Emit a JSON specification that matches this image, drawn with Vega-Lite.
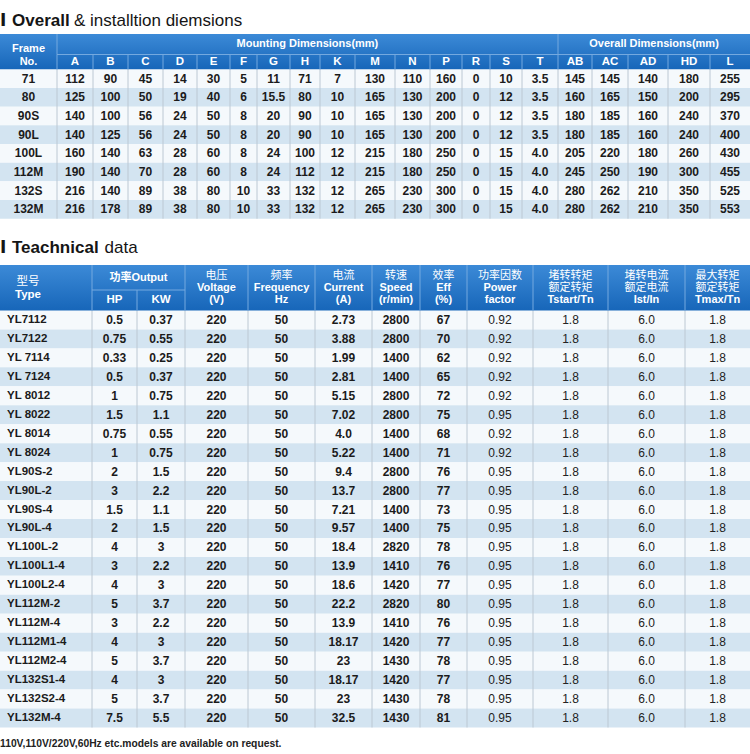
{
"$schema": "https://vega.github.io/schema/vega-lite/v6.json",
"width": 750, "height": 754, "padding": 0, "autosize": {"type": "none"},
"background": "#ffffff",
"usermeta": {"embedOptions": {"actions": false}},
"config": {"view": {"stroke": null}},
"datasets": {
"cols1": [{"key":"Frame","k":0},{"key":"A","k":1},{"key":"B","k":2},{"key":"C","k":3},{"key":"D","k":4},{"key":"E","k":5},{"key":"F","k":6},{"key":"G","k":7},{"key":"H","k":8},{"key":"K","k":9},{"key":"M","k":10},{"key":"N","k":11},{"key":"P","k":12},{"key":"R","k":13},{"key":"S","k":14},{"key":"T","k":15},{"key":"AB","k":16},{"key":"AC","k":17},{"key":"AD","k":18},{"key":"HD","k":19},{"key":"L","k":20}],
"t1": [
{"Frame":"71","A":"112","B":"90","C":"45","D":"14","E":"30","F":"5","G":"11","H":"71","K":"7","M":"130","N":"110","P":"160","R":"0","S":"10","T":"3.5","AB":"145","AC":"145","AD":"140","HD":"180","L":"255"},
{"Frame":"80","A":"125","B":"100","C":"50","D":"19","E":"40","F":"6","G":"15.5","H":"80","K":"10","M":"165","N":"130","P":"200","R":"0","S":"12","T":"3.5","AB":"160","AC":"165","AD":"150","HD":"200","L":"295"},
{"Frame":"90S","A":"140","B":"100","C":"56","D":"24","E":"50","F":"8","G":"20","H":"90","K":"10","M":"165","N":"130","P":"200","R":"0","S":"12","T":"3.5","AB":"180","AC":"185","AD":"160","HD":"240","L":"370"},
{"Frame":"90L","A":"140","B":"125","C":"56","D":"24","E":"50","F":"8","G":"20","H":"90","K":"10","M":"165","N":"130","P":"200","R":"0","S":"12","T":"3.5","AB":"180","AC":"185","AD":"160","HD":"240","L":"400"},
{"Frame":"100L","A":"160","B":"140","C":"63","D":"28","E":"60","F":"8","G":"24","H":"100","K":"12","M":"215","N":"180","P":"250","R":"0","S":"15","T":"4.0","AB":"205","AC":"220","AD":"180","HD":"260","L":"430"},
{"Frame":"112M","A":"190","B":"140","C":"70","D":"28","E":"60","F":"8","G":"24","H":"112","K":"12","M":"215","N":"180","P":"250","R":"0","S":"15","T":"4.0","AB":"245","AC":"250","AD":"190","HD":"300","L":"455"},
{"Frame":"132S","A":"216","B":"140","C":"89","D":"38","E":"80","F":"10","G":"33","H":"132","K":"12","M":"265","N":"230","P":"300","R":"0","S":"15","T":"4.0","AB":"280","AC":"262","AD":"210","HD":"350","L":"525"},
{"Frame":"132M","A":"216","B":"178","C":"89","D":"38","E":"80","F":"10","G":"33","H":"132","K":"12","M":"265","N":"230","P":"300","R":"0","S":"15","T":"4.0","AB":"280","AC":"262","AD":"210","HD":"350","L":"553"}
],
"cols2": [{"key":"Type","k":0},{"key":"HP","k":1},{"key":"KW","k":2},{"key":"V","k":3},{"key":"Hz","k":4},{"key":"A","k":5},{"key":"Speed","k":6},{"key":"Eff","k":7},{"key":"PF","k":8},{"key":"Tst","k":9},{"key":"Ist","k":10},{"key":"Tmax","k":11}],
"hd2": [
{"k":3,"ln":0,"lang":"zh","t":"电压"},{"k":3,"ln":1,"lang":"en","t":"Voltage"},{"k":3,"ln":2,"lang":"en","t":"(V)"},
{"k":4,"ln":0,"lang":"zh","t":"频率"},{"k":4,"ln":1,"lang":"en","t":"Frequency"},{"k":4,"ln":2,"lang":"en","t":"Hz"},
{"k":5,"ln":0,"lang":"zh","t":"电流"},{"k":5,"ln":1,"lang":"en","t":"Current"},{"k":5,"ln":2,"lang":"en","t":"(A)"},
{"k":6,"ln":0,"lang":"zh","t":"转速"},{"k":6,"ln":1,"lang":"en","t":"Speed"},{"k":6,"ln":2,"lang":"en","t":"(r/min)"},
{"k":7,"ln":0,"lang":"zh","t":"效率"},{"k":7,"ln":1,"lang":"en","t":"Eff"},{"k":7,"ln":2,"lang":"en","t":"(%)"},
{"k":8,"ln":0,"lang":"zh","t":"功率因数"},{"k":8,"ln":1,"lang":"en","t":"Power"},{"k":8,"ln":2,"lang":"en","t":"factor"},
{"k":9,"ln":0,"lang":"zh","t":"堵转转矩"},{"k":9,"ln":1,"lang":"zh","t":"额定转矩"},{"k":9,"ln":2,"lang":"en","t":"Tstart/Tn"},
{"k":10,"ln":0,"lang":"zh","t":"堵转电流"},{"k":10,"ln":1,"lang":"zh","t":"额定电流"},{"k":10,"ln":2,"lang":"en","t":"Ist/In"},
{"k":11,"ln":0,"lang":"zh","t":"最大转矩"},{"k":11,"ln":1,"lang":"zh","t":"额定转矩"},{"k":11,"ln":2,"lang":"en","t":"Tmax/Tn"}
],
"t2": [
{"Type":"YL7112","HP":"0.5","KW":"0.37","V":"220","Hz":"50","A":"2.73","Speed":"2800","Eff":"67","PF":"0.92","Tst":"1.8","Ist":"6.0","Tmax":"1.8"},
{"Type":"YL7122","HP":"0.75","KW":"0.55","V":"220","Hz":"50","A":"3.88","Speed":"2800","Eff":"70","PF":"0.92","Tst":"1.8","Ist":"6.0","Tmax":"1.8"},
{"Type":"YL 7114","HP":"0.33","KW":"0.25","V":"220","Hz":"50","A":"1.99","Speed":"1400","Eff":"62","PF":"0.92","Tst":"1.8","Ist":"6.0","Tmax":"1.8"},
{"Type":"YL 7124","HP":"0.5","KW":"0.37","V":"220","Hz":"50","A":"2.81","Speed":"1400","Eff":"65","PF":"0.92","Tst":"1.8","Ist":"6.0","Tmax":"1.8"},
{"Type":"YL 8012","HP":"1","KW":"0.75","V":"220","Hz":"50","A":"5.15","Speed":"2800","Eff":"72","PF":"0.92","Tst":"1.8","Ist":"6.0","Tmax":"1.8"},
{"Type":"YL 8022","HP":"1.5","KW":"1.1","V":"220","Hz":"50","A":"7.02","Speed":"2800","Eff":"75","PF":"0.95","Tst":"1.8","Ist":"6.0","Tmax":"1.8"},
{"Type":"YL 8014","HP":"0.75","KW":"0.55","V":"220","Hz":"50","A":"4.0","Speed":"1400","Eff":"68","PF":"0.92","Tst":"1.8","Ist":"6.0","Tmax":"1.8"},
{"Type":"YL 8024","HP":"1","KW":"0.75","V":"220","Hz":"50","A":"5.22","Speed":"1400","Eff":"71","PF":"0.92","Tst":"1.8","Ist":"6.0","Tmax":"1.8"},
{"Type":"YL90S-2","HP":"2","KW":"1.5","V":"220","Hz":"50","A":"9.4","Speed":"2800","Eff":"76","PF":"0.95","Tst":"1.8","Ist":"6.0","Tmax":"1.8"},
{"Type":"YL90L-2","HP":"3","KW":"2.2","V":"220","Hz":"50","A":"13.7","Speed":"2800","Eff":"77","PF":"0.95","Tst":"1.8","Ist":"6.0","Tmax":"1.8"},
{"Type":"YL90S-4","HP":"1.5","KW":"1.1","V":"220","Hz":"50","A":"7.21","Speed":"1400","Eff":"73","PF":"0.95","Tst":"1.8","Ist":"6.0","Tmax":"1.8"},
{"Type":"YL90L-4","HP":"2","KW":"1.5","V":"220","Hz":"50","A":"9.57","Speed":"1400","Eff":"75","PF":"0.95","Tst":"1.8","Ist":"6.0","Tmax":"1.8"},
{"Type":"YL100L-2","HP":"4","KW":"3","V":"220","Hz":"50","A":"18.4","Speed":"2820","Eff":"78","PF":"0.95","Tst":"1.8","Ist":"6.0","Tmax":"1.8"},
{"Type":"YL100L1-4","HP":"3","KW":"2.2","V":"220","Hz":"50","A":"13.9","Speed":"1410","Eff":"76","PF":"0.95","Tst":"1.8","Ist":"6.0","Tmax":"1.8"},
{"Type":"YL100L2-4","HP":"4","KW":"3","V":"220","Hz":"50","A":"18.6","Speed":"1420","Eff":"77","PF":"0.95","Tst":"1.8","Ist":"6.0","Tmax":"1.8"},
{"Type":"YL112M-2","HP":"5","KW":"3.7","V":"220","Hz":"50","A":"22.2","Speed":"2820","Eff":"80","PF":"0.95","Tst":"1.8","Ist":"6.0","Tmax":"1.8"},
{"Type":"YL112M-4","HP":"3","KW":"2.2","V":"220","Hz":"50","A":"13.9","Speed":"1410","Eff":"76","PF":"0.95","Tst":"1.8","Ist":"6.0","Tmax":"1.8"},
{"Type":"YL112M1-4","HP":"4","KW":"3","V":"220","Hz":"50","A":"18.17","Speed":"1420","Eff":"77","PF":"0.95","Tst":"1.8","Ist":"6.0","Tmax":"1.8"},
{"Type":"YL112M2-4","HP":"5","KW":"3.7","V":"220","Hz":"50","A":"23","Speed":"1430","Eff":"78","PF":"0.95","Tst":"1.8","Ist":"6.0","Tmax":"1.8"},
{"Type":"YL132S1-4","HP":"4","KW":"3","V":"220","Hz":"50","A":"18.17","Speed":"1420","Eff":"77","PF":"0.95","Tst":"1.8","Ist":"6.0","Tmax":"1.8"},
{"Type":"YL132S2-4","HP":"5","KW":"3.7","V":"220","Hz":"50","A":"23","Speed":"1430","Eff":"78","PF":"0.95","Tst":"1.8","Ist":"6.0","Tmax":"1.8"},
{"Type":"YL132M-4","HP":"7.5","KW":"5.5","V":"220","Hz":"50","A":"32.5","Speed":"1430","Eff":"81","PF":"0.95","Tst":"1.8","Ist":"6.0","Tmax":"1.8"}
]
},
"resolve": {"scale": {"x": "independent", "y": "independent", "color": "independent"}},
"layer": [
{"data":{"name":"t1"},"mark":{"type":"rect"},
 "encoding":{
  "x":{"datum":0,"type":"quantitative","axis":null,"scale":{"domain":[0,1,2,3,4,5,6,7,8,9,10,11,12,13,14,15,16,17,18,19,20,21],"range":[0,57,93,128,163,197,230,257,290,320,355,395,430,462,490,522,558,592,628,668,710,750],"zero":false,"nice":false}},
  "x2":{"datum":21},
  "y":{"field":"Frame","type":"nominal","sort":null,"axis":null,"scale":{"range":[69.3,218.7],"paddingInner":0,"paddingOuter":0}},
  "color":{"field":"Frame","type":"nominal","legend":null,"scale":{"domain":["71","80","90S","90L","100L","112M","132S","132M"],"range":["#f5f9fc","#d3e4f1","#f5f9fc","#d3e4f1","#f5f9fc","#d3e4f1","#f5f9fc","#d3e4f1"]}}}},
{"data":{"name":"cols1"},"transform":[{"filter":"datum.k>=1"}],"mark":{"type":"rule","color":"#bcc8d3","strokeWidth":1},
 "encoding":{
  "x":{"field":"k","type":"quantitative","axis":null,"scale":{"domain":[0,1,2,3,4,5,6,7,8,9,10,11,12,13,14,15,16,17,18,19,20,21],"range":[0,57,93,128,163,197,230,257,290,320,355,395,430,462,490,522,558,592,628,668,710,750],"zero":false,"nice":false}},
  "y":{"datum":2,"type":"quantitative","axis":null,"scale":{"domain":[0,1,2,3],"range":[34,54.5,69.3,218.7],"zero":false,"nice":false}},
  "y2":{"datum":3}}},
{"data":{"values":[{}]},"mark":{"type":"rect","color":{"gradient":"linear","x1":0,"y1":0,"x2":0,"y2":1,"stops":[{"offset":0,"color":"#3c8ad7"},{"offset":1,"color":"#1766b9"}]}},
 "encoding":{
  "x":{"datum":0,"type":"quantitative","axis":null,"scale":{"domain":[0,1,2,3,4,5,6,7,8,9,10,11,12,13,14,15,16,17,18,19,20,21],"range":[0,57,93,128,163,197,230,257,290,320,355,395,430,462,490,522,558,592,628,668,710,750],"zero":false,"nice":false}},
  "x2":{"datum":21},
  "y":{"datum":0,"type":"quantitative","axis":null,"scale":{"domain":[0,1,2,3],"range":[34,54.5,69.3,218.7],"zero":false,"nice":false}},
  "y2":{"datum":2}}},
{"data":{"name":"cols1"},"transform":[{"filter":"datum.k>=1"}],"mark":{"type":"rule","color":"#74a9df","strokeWidth":1},
 "encoding":{
  "x":{"field":"k","type":"quantitative","axis":null,"scale":{"domain":[0,1,2,3,4,5,6,7,8,9,10,11,12,13,14,15,16,17,18,19,20,21],"range":[0,57,93,128,163,197,230,257,290,320,355,395,430,462,490,522,558,592,628,668,710,750],"zero":false,"nice":false}},
  "y":{"datum":1,"type":"quantitative","axis":null,"scale":{"domain":[0,1,2,3],"range":[34,54.5,69.3,218.7],"zero":false,"nice":false}},
  "y2":{"datum":2}}},
{"data":{"name":"cols1"},"transform":[{"filter":"datum.k==1 || datum.k==16"}],"mark":{"type":"rule","color":"#74a9df","strokeWidth":1},
 "encoding":{
  "x":{"field":"k","type":"quantitative","axis":null,"scale":{"domain":[0,1,2,3,4,5,6,7,8,9,10,11,12,13,14,15,16,17,18,19,20,21],"range":[0,57,93,128,163,197,230,257,290,320,355,395,430,462,490,522,558,592,628,668,710,750],"zero":false,"nice":false}},
  "y":{"datum":0,"type":"quantitative","axis":null,"scale":{"domain":[0,1,2,3],"range":[34,54.5,69.3,218.7],"zero":false,"nice":false}},
  "y2":{"datum":1}}},
{"data":{"values":[{}]},"mark":{"type":"rule","color":"#74a9df","strokeWidth":1},
 "encoding":{
  "x":{"datum":1,"type":"quantitative","axis":null,"scale":{"domain":[0,1,2,3,4,5,6,7,8,9,10,11,12,13,14,15,16,17,18,19,20,21],"range":[0,57,93,128,163,197,230,257,290,320,355,395,430,462,490,522,558,592,628,668,710,750],"zero":false,"nice":false}},
  "x2":{"datum":21},
  "y":{"datum":1,"type":"quantitative","axis":null,"scale":{"domain":[0,1,2,3],"range":[34,54.5,69.3,218.7],"zero":false,"nice":false}}}},
{"data":{"name":"cols1"},"transform":[{"filter":"datum.k>=1"}],"mark":{"type":"text","font":"Liberation Sans","fontSize":11.5,"fontWeight":"bold","color":"#ffffff","align":"center","baseline":"middle"},
 "encoding":{
  "text":{"field":"key","type":"nominal"},
  "x":{"field":"k","type":"quantitative","axis":null,"scale":{"domain":[0,1,2,3,4,5,6,7,8,9,10,11,12,13,14,15,16,17,18,19,20],"range":[28.5,75,110.5,145.5,180,213.5,243.5,273.5,305,337.5,375,412.5,446,476,506,540,575,610,648,689,730],"zero":false,"nice":false}},
  "y":{"datum":1.5,"type":"quantitative","axis":null,"scale":{"domain":[0,1,2,3],"range":[34,54.5,69.3,218.7],"zero":false,"nice":false}}}},
{"data":{"values":[{"label":"Frame\nNo.","col":0.5,"row":0.746},{"label":"Mounting Dimensions(mm)","col":8.58,"row":0.5},{"label":"Overall Dimensions(mm)","col":18.65,"row":0.5}]},
 "mark":{"type":"text","font":"Liberation Sans","fontSize":11,"fontWeight":"bold","color":"#ffffff","align":"center","baseline":"middle","lineBreak":"\n","lineHeight":13},
 "encoding":{
  "text":{"field":"label","type":"nominal"},
  "x":{"field":"col","type":"quantitative","axis":null,"scale":{"domain":[0,1,2,3,4,5,6,7,8,9,10,11,12,13,14,15,16,17,18,19,20,21],"range":[0,57,93,128,163,197,230,257,290,320,355,395,430,462,490,522,558,592,628,668,710,750],"zero":false,"nice":false}},
  "y":{"field":"row","type":"quantitative","axis":null,"scale":{"domain":[0,1,2,3],"range":[34,54.5,69.3,218.7],"zero":false,"nice":false}}}},
{"data":{"name":"t1"},
 "transform":[{"fold":["Frame","A","B","C","D","E","F","G","H","K","M","N","P","R","S","T","AB","AC","AD","HD","L"],"as":["col","val"]},{"lookup":"col","from":{"data":{"name":"cols1"},"key":"key","fields":["k"]}}],
 "mark":{"type":"text","font":"Liberation Sans","fontSize":12,"fontWeight":"bold","color":"#1b1b1b","align":"center","baseline":"middle"},
 "encoding":{
  "text":{"field":"val","type":"nominal"},
  "x":{"field":"k","type":"quantitative","axis":null,"scale":{"domain":[0,1,2,3,4,5,6,7,8,9,10,11,12,13,14,15,16,17,18,19,20],"range":[28.5,75,110.5,145.5,180,213.5,243.5,273.5,305,337.5,375,412.5,446,476,506,540,575,610,648,689,730],"zero":false,"nice":false}},
  "y":{"field":"Frame","type":"nominal","sort":null,"axis":null,"scale":{"range":[69.3,218.7],"paddingInner":0,"paddingOuter":0}}}},

{"data":{"name":"t2"},"mark":{"type":"rect"},
 "encoding":{
  "x":{"datum":0,"type":"quantitative","axis":null,"scale":{"domain":[0,1,2,3,4,5,6,7,8,9,10,11,12],"range":[0,92,137,185,248,315,372,420,467,533,608,685,750],"zero":false,"nice":false}},
  "x2":{"datum":12},
  "y":{"field":"Type","type":"nominal","sort":null,"axis":null,"scale":{"range":[310.5,727.5],"paddingInner":0,"paddingOuter":0}},
  "color":{"field":"Type","type":"nominal","legend":null,"scale":{"domain":["YL7112","YL7122","YL 7114","YL 7124","YL 8012","YL 8022","YL 8014","YL 8024","YL90S-2","YL90L-2","YL90S-4","YL90L-4","YL100L-2","YL100L1-4","YL100L2-4","YL112M-2","YL112M-4","YL112M1-4","YL112M2-4","YL132S1-4","YL132S2-4","YL132M-4"],"range":["#f5f9fc","#d3e4f1","#f5f9fc","#d3e4f1","#f5f9fc","#d3e4f1","#f5f9fc","#d3e4f1","#f5f9fc","#d3e4f1","#f5f9fc","#d3e4f1","#f5f9fc","#d3e4f1","#f5f9fc","#d3e4f1","#f5f9fc","#d3e4f1","#f5f9fc","#d3e4f1","#f5f9fc","#d3e4f1"]}}}},
{"data":{"name":"cols2"},"transform":[{"filter":"datum.k>=1"}],"mark":{"type":"rule","color":"#bcc8d3","strokeWidth":1},
 "encoding":{
  "x":{"field":"k","type":"quantitative","axis":null,"scale":{"domain":[0,1,2,3,4,5,6,7,8,9,10,11,12],"range":[0,92,137,185,248,315,372,420,467,533,608,685,750],"zero":false,"nice":false}},
  "y":{"datum":2,"type":"quantitative","axis":null,"scale":{"domain":[0,1,2,3],"range":[265,290,310.5,727.5],"zero":false,"nice":false}},
  "y2":{"datum":3}}},
{"data":{"values":[{}]},"mark":{"type":"rect","color":{"gradient":"linear","x1":0,"y1":0,"x2":0,"y2":1,"stops":[{"offset":0,"color":"#3c8ad7"},{"offset":1,"color":"#1766b9"}]}},
 "encoding":{
  "x":{"datum":0,"type":"quantitative","axis":null,"scale":{"domain":[0,1,2,3,4,5,6,7,8,9,10,11,12],"range":[0,92,137,185,248,315,372,420,467,533,608,685,750],"zero":false,"nice":false}},
  "x2":{"datum":12},
  "y":{"datum":0,"type":"quantitative","axis":null,"scale":{"domain":[0,1,2,3],"range":[265,290,310.5,727.5],"zero":false,"nice":false}},
  "y2":{"datum":2}}},
{"data":{"name":"cols2"},"transform":[{"filter":"datum.k>=1 && datum.k!=2"}],"mark":{"type":"rule","color":"#74a9df","strokeWidth":1},
 "encoding":{
  "x":{"field":"k","type":"quantitative","axis":null,"scale":{"domain":[0,1,2,3,4,5,6,7,8,9,10,11,12],"range":[0,92,137,185,248,315,372,420,467,533,608,685,750],"zero":false,"nice":false}},
  "y":{"datum":0,"type":"quantitative","axis":null,"scale":{"domain":[0,1,2,3],"range":[265,290,310.5,727.5],"zero":false,"nice":false}},
  "y2":{"datum":2}}},
{"data":{"name":"cols2"},"transform":[{"filter":"datum.k==2"}],"mark":{"type":"rule","color":"#74a9df","strokeWidth":1},
 "encoding":{
  "x":{"field":"k","type":"quantitative","axis":null,"scale":{"domain":[0,1,2,3,4,5,6,7,8,9,10,11,12],"range":[0,92,137,185,248,315,372,420,467,533,608,685,750],"zero":false,"nice":false}},
  "y":{"datum":1,"type":"quantitative","axis":null,"scale":{"domain":[0,1,2,3],"range":[265,290,310.5,727.5],"zero":false,"nice":false}},
  "y2":{"datum":2}}},
{"data":{"values":[{}]},"mark":{"type":"rule","color":"#74a9df","strokeWidth":1},
 "encoding":{
  "x":{"datum":1,"type":"quantitative","axis":null,"scale":{"domain":[0,1,2,3,4,5,6,7,8,9,10,11,12],"range":[0,92,137,185,248,315,372,420,467,533,608,685,750],"zero":false,"nice":false}},
  "x2":{"datum":3},
  "y":{"datum":1,"type":"quantitative","axis":null,"scale":{"domain":[0,1,2,3],"range":[265,290,310.5,727.5],"zero":false,"nice":false}}}},
{"data":{"name":"hd2"},"transform":[{"filter":"datum.lang=='zh'"}],
 "mark":{"type":"text","font":"Noto Sans CJK SC","fontSize":11,"fontWeight":"normal","color":"#ffffff","align":"center","baseline":"middle"},
 "encoding":{
  "text":{"field":"t","type":"nominal"},
  "x":{"field":"k","type":"quantitative","axis":null,"scale":{"domain":[0,1,2,3,4,5,6,7,8,9,10,11],"range":[28,114.5,161,216.5,281.5,343.5,396,443.5,500,570.5,646.5,717.5],"zero":false,"nice":false}},
  "y":{"field":"ln","type":"quantitative","axis":null,"scale":{"domain":[0,2],"range":[276,300],"zero":false,"nice":false}}}},
{"data":{"name":"hd2"},"transform":[{"filter":"datum.lang=='en'"}],
 "mark":{"type":"text","font":"Liberation Sans","fontSize":11,"fontWeight":"bold","color":"#ffffff","align":"center","baseline":"middle"},
 "encoding":{
  "text":{"field":"t","type":"nominal"},
  "x":{"field":"k","type":"quantitative","axis":null,"scale":{"domain":[0,1,2,3,4,5,6,7,8,9,10,11],"range":[28,114.5,161,216.5,281.5,343.5,396,443.5,500,570.5,646.5,717.5],"zero":false,"nice":false}},
  "y":{"field":"ln","type":"quantitative","axis":null,"scale":{"domain":[0,2],"range":[276,300],"zero":false,"nice":false}}}},
{"data":{"values":[{"t":"型号","k":0}]},
 "mark":{"type":"text","font":"Noto Sans CJK SC","fontSize":11.5,"fontWeight":"normal","color":"#ffffff","align":"center","baseline":"middle"},
 "encoding":{
  "text":{"field":"t","type":"nominal"},
  "x":{"field":"k","type":"quantitative","axis":null,"scale":{"domain":[0,1,2,3,4,5,6,7,8,9,10,11],"range":[28,114.5,161,216.5,281.5,343.5,396,443.5,500,570.5,646.5,717.5],"zero":false,"nice":false}},
  "y":{"datum":0.68,"type":"quantitative","axis":null,"scale":{"domain":[0,1,2,3],"range":[265,290,310.5,727.5],"zero":false,"nice":false}}}},
{"data":{"values":[{"t":"Type","k":0}]},
 "mark":{"type":"text","font":"Liberation Sans","fontSize":11.5,"fontWeight":"bold","color":"#ffffff","align":"center","baseline":"middle"},
 "encoding":{
  "text":{"field":"t","type":"nominal"},
  "x":{"field":"k","type":"quantitative","axis":null,"scale":{"domain":[0,1,2,3,4,5,6,7,8,9,10,11],"range":[28,114.5,161,216.5,281.5,343.5,396,443.5,500,570.5,646.5,717.5],"zero":false,"nice":false}},
  "y":{"datum":1.22,"type":"quantitative","axis":null,"scale":{"domain":[0,1,2,3],"range":[265,290,310.5,727.5],"zero":false,"nice":false}}}},
{"data":{"name":"cols2"},"transform":[{"filter":"datum.k==1 || datum.k==2"}],
 "mark":{"type":"text","font":"Liberation Sans","fontSize":11.5,"fontWeight":"bold","color":"#ffffff","align":"center","baseline":"middle"},
 "encoding":{
  "text":{"field":"key","type":"nominal"},
  "x":{"field":"k","type":"quantitative","axis":null,"scale":{"domain":[0,1,2,3,4,5,6,7,8,9,10,11],"range":[28,114.5,161,216.5,281.5,343.5,396,443.5,500,570.5,646.5,717.5],"zero":false,"nice":false}},
  "y":{"datum":1.5,"type":"quantitative","axis":null,"scale":{"domain":[0,1,2,3],"range":[265,290,310.5,727.5],"zero":false,"nice":false}}}},
{"data":{"values":[{"label":"功率Output","col":2.03,"row":0.5}]},
 "mark":{"type":"text","font":"Liberation Sans, Noto Sans CJK SC","fontSize":11,"fontWeight":"bold","color":"#ffffff","align":"center","baseline":"middle"},
 "encoding":{
  "text":{"field":"label","type":"nominal"},
  "x":{"field":"col","type":"quantitative","axis":null,"scale":{"domain":[0,1,2,3,4,5,6,7,8,9,10,11,12],"range":[0,92,137,185,248,315,372,420,467,533,608,685,750],"zero":false,"nice":false}},
  "y":{"field":"row","type":"quantitative","axis":null,"scale":{"domain":[0,1,2,3],"range":[265,290,310.5,727.5],"zero":false,"nice":false}}}},
{"data":{"name":"t2"},
 "transform":[{"fold":["HP","KW","V","Hz","A","Speed","Eff"],"as":["col","val"]},{"lookup":"col","from":{"data":{"name":"cols2"},"key":"key","fields":["k"]}}],
 "mark":{"type":"text","font":"Liberation Sans","fontSize":12,"fontWeight":"bold","color":"#1b1b1b","align":"center","baseline":"middle"},
 "encoding":{
  "text":{"field":"val","type":"nominal"},
  "x":{"field":"k","type":"quantitative","axis":null,"scale":{"domain":[0,1,2,3,4,5,6,7,8,9,10,11],"range":[28,114.5,161,216.5,281.5,343.5,396,443.5,500,570.5,646.5,717.5],"zero":false,"nice":false}},
  "y":{"field":"Type","type":"nominal","sort":null,"axis":null,"scale":{"range":[310.5,727.5],"paddingInner":0,"paddingOuter":0}}}},
{"data":{"name":"t2"},
 "transform":[{"fold":["PF","Tst","Ist","Tmax"],"as":["col","val"]},{"lookup":"col","from":{"data":{"name":"cols2"},"key":"key","fields":["k"]}}],
 "mark":{"type":"text","font":"Liberation Sans","fontSize":12,"fontWeight":"normal","color":"#222222","align":"center","baseline":"middle"},
 "encoding":{
  "text":{"field":"val","type":"nominal"},
  "x":{"field":"k","type":"quantitative","axis":null,"scale":{"domain":[0,1,2,3,4,5,6,7,8,9,10,11],"range":[28,114.5,161,216.5,281.5,343.5,396,443.5,500,570.5,646.5,717.5],"zero":false,"nice":false}},
  "y":{"field":"Type","type":"nominal","sort":null,"axis":null,"scale":{"range":[310.5,727.5],"paddingInner":0,"paddingOuter":0}}}},
{"data":{"name":"t2"},
 "mark":{"type":"text","font":"Liberation Sans","fontSize":11.5,"fontWeight":"bold","color":"#1b1b1b","align":"left","baseline":"middle","dx":7},
 "encoding":{
  "text":{"field":"Type","type":"nominal"},
  "x":{"datum":0,"type":"quantitative","axis":null,"scale":{"domain":[0,1,2,3,4,5,6,7,8,9,10,11,12],"range":[0,92,137,185,248,315,372,420,467,533,608,685,750],"zero":false,"nice":false}},
  "y":{"field":"Type","type":"nominal","sort":null,"axis":null,"scale":{"range":[310.5,727.5],"paddingInner":0,"paddingOuter":0}}}},

{"data":{"values":[{"s":1},{"s":2}]},
 "mark":{"type":"text","text":"I","font":"DejaVu Sans","fontSize":17,"fontWeight":"bold","color":"#151515","align":"left","baseline":"alphabetic","dx":0},
 "encoding":{
  "x":{"datum":0,"type":"quantitative","axis":null,"scale":{"domain":[0,1,2,3,4,5,6,7,8,9,10,11,12],"range":[0,92,137,185,248,315,372,420,467,533,608,685,750],"zero":false,"nice":false}},
  "y":{"field":"s","type":"quantitative","axis":null,"scale":{"domain":[1,2,3],"range":[26.3,252.7,746.5],"zero":false,"nice":false}}}},
{"data":{"values":[{"t":"Overall","s":1},{"t":"Teachnical","s":2}]},
 "mark":{"type":"text","font":"Liberation Sans","fontSize":17,"fontWeight":"bold","color":"#151515","align":"left","baseline":"alphabetic","dx":12},
 "encoding":{
  "text":{"field":"t","type":"nominal"},
  "x":{"datum":0,"type":"quantitative","axis":null,"scale":{"domain":[0,1,2,3,4,5,6,7,8,9,10,11,12],"range":[0,92,137,185,248,315,372,420,467,533,608,685,750],"zero":false,"nice":false}},
  "y":{"field":"s","type":"quantitative","axis":null,"scale":{"domain":[1,2,3],"range":[26.3,252.7,746.5],"zero":false,"nice":false}}}},
{"data":{"values":[{"t":"& installtion diemsions","s":1}]},
 "mark":{"type":"text","font":"Liberation Sans","fontSize":17,"fontWeight":"normal","color":"#151515","align":"left","baseline":"alphabetic","dx":74},
 "encoding":{
  "text":{"field":"t","type":"nominal"},
  "x":{"datum":0,"type":"quantitative","axis":null,"scale":{"domain":[0,1,2,3,4,5,6,7,8,9,10,11,12],"range":[0,92,137,185,248,315,372,420,467,533,608,685,750],"zero":false,"nice":false}},
  "y":{"field":"s","type":"quantitative","axis":null,"scale":{"domain":[1,2,3],"range":[26.3,252.7,746.5],"zero":false,"nice":false}}}},
{"data":{"values":[{"t":"data","s":2}]},
 "mark":{"type":"text","font":"Liberation Sans","fontSize":17,"fontWeight":"normal","color":"#151515","align":"left","baseline":"alphabetic","dx":104.5},
 "encoding":{
  "text":{"field":"t","type":"nominal"},
  "x":{"datum":0,"type":"quantitative","axis":null,"scale":{"domain":[0,1,2,3,4,5,6,7,8,9,10,11,12],"range":[0,92,137,185,248,315,372,420,467,533,608,685,750],"zero":false,"nice":false}},
  "y":{"field":"s","type":"quantitative","axis":null,"scale":{"domain":[1,2,3],"range":[26.3,252.7,746.5],"zero":false,"nice":false}}}},
{"data":{"values":[{"t":"110V,110V/220V,60Hz etc.models are available on request.","s":3}]},
 "mark":{"type":"text","font":"Liberation Sans","fontSize":10.3,"fontWeight":"bold","color":"#222222","align":"left","baseline":"alphabetic","dx":0},
 "encoding":{
  "text":{"field":"t","type":"nominal"},
  "x":{"datum":0,"type":"quantitative","axis":null,"scale":{"domain":[0,1,2,3,4,5,6,7,8,9,10,11,12],"range":[0,92,137,185,248,315,372,420,467,533,608,685,750],"zero":false,"nice":false}},
  "y":{"field":"s","type":"quantitative","axis":null,"scale":{"domain":[1,2,3],"range":[26.3,252.7,746.5],"zero":false,"nice":false}}}}
]
}
